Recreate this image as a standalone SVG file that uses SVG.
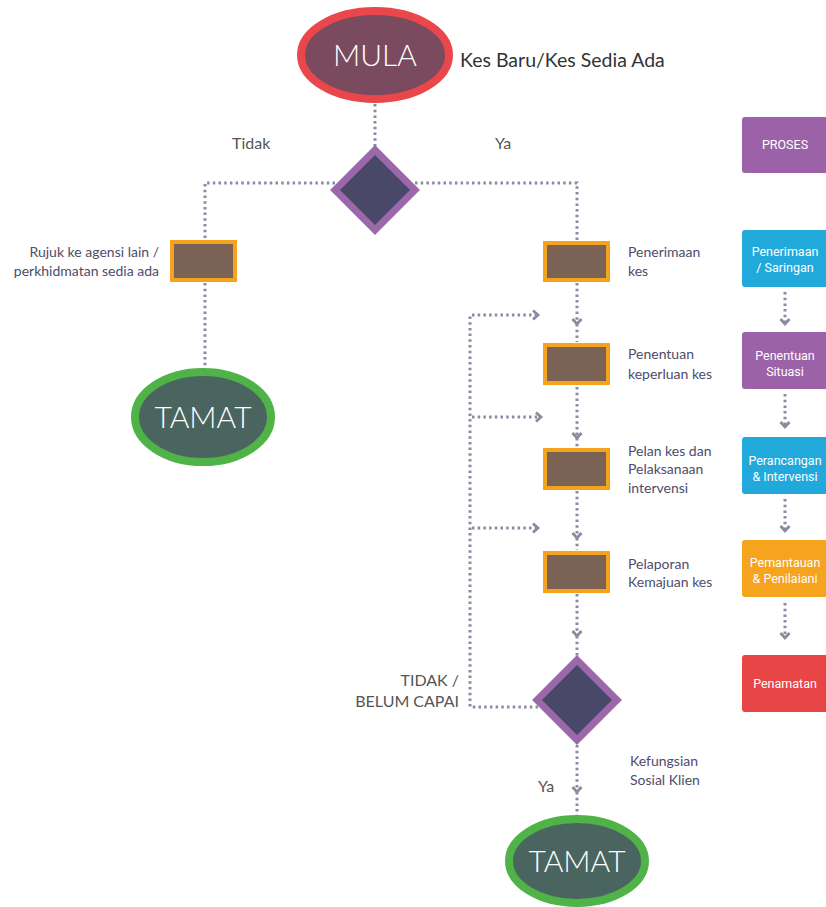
<svg xmlns="http://www.w3.org/2000/svg" width="826" height="907" viewBox="0 0 826 907">
  <defs>
    <style>
      .dot { fill: none; stroke: #8b8aa3; stroke-width: 3; stroke-dasharray: 2.5 3.2; }
      .box { fill: #7a6254; stroke: #f5a31f; stroke-width: 4; }
      .dia { fill: #4a4868; stroke: #9b69a9; stroke-width: 7; }
      .lbl { font-family: "Lato", "Open Sans", sans-serif; font-size: 14px; fill: #4e4c6c; }
      .cap { font-family: "Lato", "Open Sans", sans-serif; font-size: 16px; fill: #555; }
      .term { font-family: "Lato", "Open Sans", sans-serif; font-size: 30px; font-weight: 300; fill: #fff; text-anchor: middle; }
      .side { font-family: "Roboto", "Open Sans", sans-serif; font-size: 12.5px; fill: #fff; text-anchor: middle; }
    </style>
    <marker id="chev" viewBox="0 0 10 12" refX="7" refY="6" markerWidth="10" markerHeight="12" markerUnits="userSpaceOnUse" orient="auto">
      <path d="M2,1.5 L7,6 L2,10.5" fill="none" stroke="#8b8aa3" stroke-width="2.8"/>
    </marker>
  </defs>

  <!-- connectors -->
  <g id="connectors">
    <path class="dot" d="M375,104 V148"/>
    <path class="dot" d="M335,183 H205 V240"/>
    <path class="dot" d="M415,183 H577 V240"/>
    <path class="dot" d="M205,283 V368"/>
    <path class="dot" d="M577,283 V324" marker-end="url(#chev)"/>
    <path class="dot" d="M577,324 V342"/>
    <path class="dot" d="M577,387 V438" marker-end="url(#chev)"/>
    <path class="dot" d="M577,438 V447"/>
    <path class="dot" d="M577,491 V538" marker-end="url(#chev)"/>
    <path class="dot" d="M577,538 V550"/>
    <path class="dot" d="M577,594 V636" marker-end="url(#chev)"/>
    <path class="dot" d="M577,636 V656"/>
    <path class="dot" d="M538,707 H470 V315"/>
    <path class="dot" d="M472,315 H538" marker-end="url(#chev)"/>
    <path class="dot" d="M472,417 H541" marker-end="url(#chev)"/>
    <path class="dot" d="M472,528 H538" marker-end="url(#chev)"/>
    <path class="dot" d="M577,745 V792" marker-end="url(#chev)"/>
    <path class="dot" d="M577,792 V816"/>
    <!-- side column links -->
    <path class="dot" d="M785,292 V324" marker-end="url(#chev)"/>
    <path class="dot" d="M785,394 V427" marker-end="url(#chev)"/>
    <path class="dot" d="M785,499 V531" marker-end="url(#chev)"/>
    <path class="dot" d="M785,603 V638" marker-end="url(#chev)"/>
  </g>

  <g id="mula">
    <ellipse cx="375" cy="55" rx="74" ry="44" fill="#7a4a5e" stroke="#e9474b" stroke-width="8"/>
    <text class="term" x="375" y="66">MULA</text>
  </g>
  <text id="mula-note" x="460" y="67" font-family="Lato, 'Open Sans', sans-serif" font-size="19.5" fill="#333">Kes Baru/Kes Sedia Ada</text>

  <g id="keputusan1">
    <polygon class="dia" points="375,150 415,190 375,230 335,190"/>
  </g>
  <text class="cap" x="232" y="149">Tidak</text>
  <text class="cap" x="495" y="149">Ya</text>

  <g id="rujuk">
    <rect class="box" x="172" y="242" width="63" height="38"/>
    <text class="lbl" x="159" y="257" text-anchor="end">Rujuk ke agensi lain /</text>
    <text class="lbl" x="159" y="276" text-anchor="end">perkhidmatan sedia ada</text>
  </g>

  <g id="tamat1">
    <ellipse cx="203" cy="417" rx="68" ry="45" fill="#4a655f" stroke="#4fb348" stroke-width="8"/>
    <text class="term" x="203" y="428">TAMAT</text>
  </g>

  <g id="penerimaan">
    <rect class="box" x="545" y="243" width="63" height="37"/>
    <text class="lbl" x="628" y="257">Penerimaan</text>
    <text class="lbl" x="628" y="276">kes</text>
  </g>
  <g id="penentuan">
    <rect class="box" x="545" y="345" width="63" height="38"/>
    <text class="lbl" x="628" y="359">Penentuan</text>
    <text class="lbl" x="628" y="379">keperluan kes</text>
  </g>
  <g id="pelan">
    <rect class="box" x="545" y="450" width="63" height="38"/>
    <text class="lbl" x="628" y="456">Pelan kes dan</text>
    <text class="lbl" x="628" y="474">Pelaksanaan</text>
    <text class="lbl" x="628" y="493">intervensi</text>
  </g>
  <g id="pelaporan">
    <rect class="box" x="545" y="553" width="63" height="38"/>
    <text class="lbl" x="628" y="569">Pelaporan</text>
    <text class="lbl" x="628" y="587">Kemajuan kes</text>
  </g>

  <g id="keputusan2">
    <polygon class="dia" points="577,660 617,700 577,740 537,700"/>
  </g>
  <text class="cap" x="459" y="686" text-anchor="end">TIDAK /</text>
  <text class="cap" x="459" y="707" text-anchor="end">BELUM CAPAI</text>
  <text class="cap" x="538" y="792">Ya</text>
  <text class="lbl" x="630" y="766">Kefungsian</text>
  <text class="lbl" x="630" y="785">Sosial Klien</text>

  <g id="tamat2">
    <ellipse cx="577" cy="861" rx="68" ry="42" fill="#4a655f" stroke="#4fb348" stroke-width="8"/>
    <text class="term" x="577" y="872">TAMAT</text>
  </g>

  <!-- process stage column -->
  <g id="proses">
    <rect x="742" y="117" width="90" height="56" rx="3" fill="#9c62a8"/>
    <text class="side" x="785" y="149">PROSES</text>
  </g>
  <g id="saringan">
    <rect x="742" y="230" width="90" height="57" rx="3" fill="#22a9dc"/>
    <text class="side" x="785" y="256">Penerimaan</text>
    <text class="side" x="785" y="272">/ Saringan</text>
  </g>
  <g id="situasi">
    <rect x="742" y="332" width="90" height="57" rx="3" fill="#9c62a8"/>
    <text class="side" x="785" y="360">Penentuan</text>
    <text class="side" x="785" y="376">Situasi</text>
  </g>
  <g id="intervensi">
    <rect x="742" y="437" width="90" height="57" rx="3" fill="#22a9dc"/>
    <text class="side" x="785" y="465">Perancangan</text>
    <text class="side" x="785" y="481">&amp; Intervensi</text>
  </g>
  <g id="penilaian">
    <rect x="742" y="540" width="90" height="57" rx="3" fill="#f6a31d"/>
    <text class="side" x="785" y="567">Pemantauan</text>
    <text class="side" x="785" y="583">&amp; Penilaiani</text>
  </g>
  <g id="penamatan">
    <rect x="742" y="655" width="90" height="57" rx="3" fill="#e84546"/>
    <text class="side" x="785" y="688">Penamatan</text>
  </g>
</svg>
